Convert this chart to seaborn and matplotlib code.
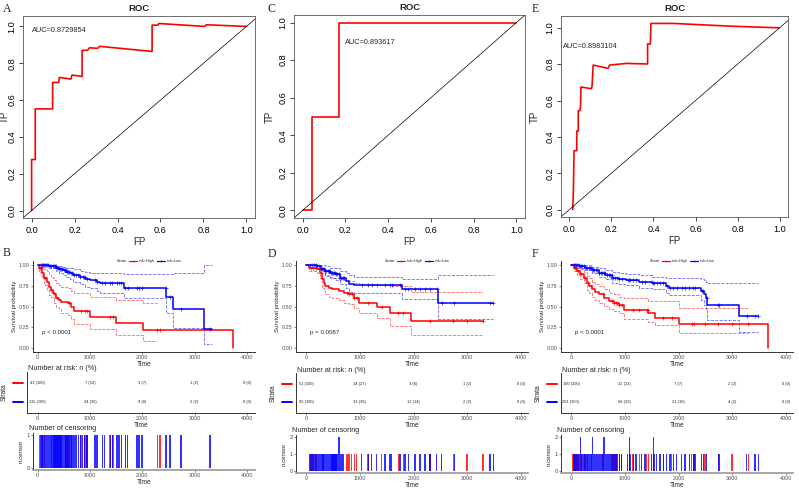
import matplotlib
matplotlib.use("Agg")
import matplotlib.pyplot as plt
from matplotlib.lines import Line2D
import numpy as np
import pandas as pd
import seaborn as sns

W, H = 799, 488
RED, BLUE = "#FF0000", "#0000FF"
GREY = "#4D4D4D"

# ---------------- ROC curves ----------------
roc_a_fp = [0, 0, 0.017, 0.017, 0.098, 0.098, 0.126, 0.129, 0.183, 0.188, 0.235, 0.235,
            0.261, 0.269, 0.308, 0.316, 0.561, 0.561, 0.588, 0.592, 0.806, 0.813, 1.0]
roc_a_tp = [0, 0.277, 0.277, 0.552, 0.552, 0.696, 0.696, 0.723, 0.714, 0.736, 0.728, 0.870,
            0.870, 0.884, 0.881, 0.892, 0.864, 1.007, 1.007, 1.016, 1.0, 1.009, 1.0]
roc_c_fp = [0.0, 0.044, 0.044, 0.169, 0.169, 1.0]
roc_c_tp = [0.0, 0.0, 0.497, 0.497, 1.0, 1.0]
roc_e_fp = [0.016, 0.019, 0.022, 0.035, 0.035, 0.042, 0.042, 0.050, 0.053, 0.055, 0.105, 0.108,
            0.113, 0.184, 0.192, 0.271, 0.372, 0.372, 0.385, 0.388, 0.498, 0.765, 0.997]
roc_e_tp = [0.0, 0.106, 0.324, 0.324, 0.432, 0.432, 0.544, 0.544, 0.566, 0.674, 0.665, 0.683,
            0.795, 0.777, 0.795, 0.804, 0.801, 0.911, 0.911, 1.024, 1.024, 1.009, 1.0]
auc_a, auc_c, auc_e = "AUC=0.8729854", "AUC=0.893617", "AUC=0.8983104"

# ---------------- KM curves (time, survival, conf. band) ----------------
# B
b_hi_t = [0, 32, 84, 129, 174, 226, 258, 290, 323, 355, 406, 452, 581, 645, 690, 1000, 1503, 2019, 3742]
b_hi_s = [1.0, 0.96, 0.90, 0.84, 0.80, 0.74, 0.70, 0.67, 0.65, 0.60, 0.58, 0.56, 0.54, 0.50, 0.45, 0.38, 0.30, 0.225, 0.0]
b_hi_ci_t = [0, 32, 84, 129, 174, 226, 258, 290, 323, 355, 406, 452, 581, 645, 690, 1000, 1503, 2019, 2290]
b_hi_up = [1.0, 1.0, 0.98, 0.95, 0.93, 0.89, 0.86, 0.84, 0.82, 0.78, 0.76, 0.74, 0.72, 0.69, 0.66, 0.62, 0.58, 0.54, 0.54]
b_hi_lo = [1.0, 0.92, 0.84, 0.76, 0.70, 0.64, 0.62, 0.60, 0.55, 0.50, 0.47, 0.43, 0.40, 0.35, 0.29, 0.23, 0.16, 0.09, 0.09]
b_hi_cens = [40, 75, 135, 265, 310, 380, 600, 830, 910, 950, 1380, 1440, 2290, 2340]

b_lo_t = [0, 226, 355, 419, 484, 548, 613, 677, 806, 903, 1000, 1129, 1194, 1645, 2452, 2581, 3181, 3323]
b_lo_s = [1.0, 0.99, 0.97, 0.95, 0.94, 0.92, 0.90, 0.88, 0.86, 0.83, 0.82, 0.80, 0.78, 0.73, 0.62, 0.47, 0.23, 0.23]
b_lo_up = [1.0, 1.0, 0.99, 0.99, 0.98, 0.97, 0.96, 0.95, 0.93, 0.92, 0.91, 0.90, 0.90, 0.89, 0.89, 0.91, 1.0, 1.0]
b_lo_lo = [1.0, 0.97, 0.93, 0.90, 0.88, 0.86, 0.83, 0.80, 0.77, 0.74, 0.72, 0.69, 0.66, 0.61, 0.43, 0.24, 0.05, 0.05]
b_lo_cens = [60, 85, 110, 130, 150, 170, 190, 210, 230, 260, 290, 310, 330, 350, 370, 390, 410, 430,
             450, 470, 500, 520, 540, 560, 580, 610, 640, 660, 700, 740, 780, 820, 860, 900, 940,
             1100, 1140, 1240, 1280, 1390, 1430, 1520, 1560, 1600, 1680, 1720, 1900, 1940, 2000,
             2450, 2530, 2740, 3290]
b_lo_double = []

# D
d_hi_t = [0, 50, 205, 255, 299, 330, 361, 423, 485, 610, 703, 797, 890, 983, 1325, 1560, 1948, 3290]
d_hi_s = [1.0, 0.97, 0.95, 0.91, 0.83, 0.79, 0.75, 0.73, 0.71, 0.69, 0.67, 0.65, 0.61, 0.55, 0.50, 0.43, 0.33, 0.33]
d_hi_up = [1.0, 1.0, 1.0, 0.99, 0.94, 0.91, 0.88, 0.86, 0.85, 0.83, 0.82, 0.81, 0.79, 0.77, 0.76, 0.75, 0.68, 0.68]
d_hi_lo = [1.0, 0.93, 0.90, 0.85, 0.73, 0.69, 0.65, 0.62, 0.60, 0.58, 0.55, 0.53, 0.48, 0.42, 0.37, 0.27, 0.16, 0.16]
d_hi_cens = [90, 130, 190, 760, 800, 850, 900, 940, 1150, 1408, 1718, 1811, 2310, 2741, 3000, 3290]

d_lo_t = [0, 200, 270, 360, 455, 550, 640, 735, 800, 900, 1780, 2460, 3480]
d_lo_s = [1.0, 0.99, 0.95, 0.93, 0.91, 0.89, 0.85, 0.81, 0.77, 0.76, 0.71, 0.55, 0.55]
d_lo_up = [1.0, 1.0, 1.0, 0.99, 0.97, 0.96, 0.93, 0.90, 0.88, 0.86, 0.83, 0.88, 0.88]
d_lo_lo = [1.0, 0.96, 0.90, 0.87, 0.85, 0.82, 0.77, 0.73, 0.68, 0.66, 0.59, 0.35, 0.35]
d_lo_cens = [80, 110, 150, 180, 210, 240, 270, 300, 320, 340, 360, 380, 400, 420, 440, 460, 480, 500,
             520, 540, 560, 580, 614, 640, 660, 680, 700, 1036, 1160, 1222, 1315, 1470, 1563, 1594,
             1749, 1842, 1904, 2028, 2121, 2214, 2307, 2431, 2524, 2760, 3423, 3485]
d_lo_double = [614]

# F
f_hi_t = [0, 50, 110, 170, 235, 300, 330, 390, 455, 515, 610, 700, 800, 890, 980, 1440, 1560, 2000, 3670]
f_hi_s = [1.0, 0.97, 0.93, 0.89, 0.85, 0.79, 0.75, 0.71, 0.68, 0.65, 0.61, 0.57, 0.55, 0.52, 0.46, 0.42, 0.37, 0.29, 0.0]
f_hi_ci_t = [0, 50, 110, 170, 235, 300, 330, 390, 455, 515, 610, 700, 800, 890, 980, 1440, 1560, 2000, 3300]
f_hi_up = [1.0, 1.0, 0.98, 0.95, 0.92, 0.87, 0.84, 0.80, 0.77, 0.75, 0.71, 0.67, 0.65, 0.62, 0.60, 0.57, 0.57, 0.48, 0.48]
f_hi_lo = [1.0, 0.93, 0.88, 0.83, 0.78, 0.70, 0.66, 0.62, 0.58, 0.55, 0.51, 0.47, 0.45, 0.42, 0.35, 0.32, 0.28, 0.18, 0.18]
f_hi_cens = [40, 75, 90, 130, 190, 265, 310, 380, 600, 760, 800, 830, 850, 900, 940, 1150, 1271,
             1408, 1439, 1718, 1873, 2245, 2290, 2493, 2741, 3000, 3299]

f_lo_t = [0, 143, 268, 392, 516, 641, 765, 890, 1014, 1263, 1512, 1761, 1823, 2414, 2477, 2508, 2539, 3130, 3480]
f_lo_s = [1.0, 0.99, 0.97, 0.94, 0.91, 0.88, 0.85, 0.83, 0.82, 0.80, 0.78, 0.75, 0.73, 0.69, 0.65, 0.61, 0.52, 0.39, 0.39]
f_lo_up = [1.0, 1.0, 1.0, 0.98, 0.96, 0.94, 0.92, 0.90, 0.89, 0.88, 0.86, 0.84, 0.84, 0.83, 0.82, 0.80, 0.79, 0.79, 0.79]
f_lo_lo = [1.0, 0.97, 0.94, 0.90, 0.86, 0.83, 0.79, 0.77, 0.76, 0.73, 0.71, 0.67, 0.64, 0.58, 0.52, 0.47, 0.34, 0.19, 0.19]
f_lo_cens = [60, 80, 100, 120, 140, 160, 180, 210, 240, 270, 300, 330, 360, 380, 403, 430, 460, 490,
             520, 550, 580, 614, 640, 670, 700, 730, 760, 790, 820, 860, 900, 940, 1054, 1085, 1098,
             1160, 1209, 1315, 1377, 1501, 1532, 1544, 1594, 1656, 1718, 1780, 1842, 1904, 1966,
             2059, 2121, 2202, 2276, 2307, 2431, 2462, 2524, 2741, 2760, 3268, 3423, 3485]
f_lo_double = [180, 403, 614, 1085, 1532]

risk_times = [0, 1000, 2000, 3000, 4000]
risk_b_high = ["43 (100)", "7 (16)", "3 (7)", "1 (2)", "0 (0)"]
risk_b_low = ["115 (100)", "34 (30)", "9 (8)", "2 (2)", "0 (0)"]
risk_d_high = ["51 (100)", "14 (27)", "3 (6)", "1 (2)", "0 (0)"]
risk_d_low = ["92 (100)", "33 (36)", "13 (14)", "2 (2)", "0 (0)"]
risk_f_high = ["100 (100)", "22 (22)", "7 (7)", "2 (2)", "0 (0)"]
risk_f_low = ["201 (100)", "66 (33)", "21 (10)", "4 (2)", "0 (0)"]

pval_b, pval_d, pval_f = "p < 0.0001", "p = 0.0087", "p < 0.0001"

sns.set_theme(style="ticks")
plt.rcParams["font.family"] = ["Liberation Sans", "DejaVu Sans"]

fig = plt.figure(figsize=(W / 100, H / 100), dpi=100)


def px_axes(left, top, right, bottom):
    return fig.add_axes([left / W, 1 - bottom / H, (right - left) / W, (bottom - top) / H])


def letter(x, y, s):
    fig.text(x / W, 1 - y / H, s, family=["Liberation Serif", "DejaVu Serif"],
             fontsize=8.5, ha="left", va="center")


def roc_panel(box, fp, tp, auc_txt, auc_xy, tp_off):
    ax = px_axes(*box)
    df = pd.DataFrame({"FP": fp, "TP": tp})
    sns.lineplot(data=df, x="FP", y="TP", sort=False, estimator=None,
                 color=RED, lw=1.2, ax=ax)
    ax.axline((0, 0), slope=1, color="black", lw=0.5)
    pad = 0.04 * (max(tp) - min(tp))
    ax.set_xlim(-0.04, 1.04)
    ax.set_ylim(min(tp) - pad, max(tp) + pad)
    ticks = np.round(np.arange(0, 1.01, 0.2), 1)
    ax.set_xticks(ticks, [f"{v:.1f}" for v in ticks])
    ax.set_yticks(ticks, [f"{v:.1f}" for v in ticks], rotation=90, va="center")
    ax.tick_params(length=3, width=0.5, labelsize=6.6, colors="black")
    ax.tick_params(axis="x", pad=3)
    ax.tick_params(axis="y", pad=1.5)
    for sp in ax.spines.values():
        sp.set_visible(True)
        sp.set_linewidth(0.6)
        sp.set_color("#555555")
    ax.set_xlabel("FP", fontsize=7, labelpad=1)
    ax.set_ylabel("TP", fontsize=7)
    ax.yaxis.set_label_coords(tp_off / (box[2] - box[0]), 0.5)
    ax.set_title("ROC", fontsize=6.8, fontweight="bold", pad=3.5)
    ax.text(auc_xy[0], auc_xy[1], auc_txt, fontsize=5.3, ha="left", va="center")


def step_at(t, s, x):
    i = np.searchsorted(t, x, side="right") - 1
    return np.asarray(s)[np.clip(i, 0, len(s) - 1)]


def gg_axis(ax, box, x0, x4k):
    k = 4000 / (x4k - x0)
    ax.set_xlim((box[0] - x0) * k, (box[2] - x0) * k)
    ax.set_xticks(risk_times)
    for sp in ("top", "right"):
        ax.spines[sp].set_visible(False)
    for sp in ("left", "bottom"):
        ax.spines[sp].set_linewidth(0.7)
        ax.spines[sp].set_color("#333333")
    ax.tick_params(length=1.5, width=0.5, pad=0.8, labelsize=3.9, colors=GREY)


def km_panel(box, x0, x4k, groups, pval):
    ax = px_axes(*box)
    for g in groups:
        for band in ("up", "lo"):
            sns.lineplot(x=g["ci_t"], y=g[band], drawstyle="steps-post", estimator=None,
                         sort=False, color=g["color"], lw=0.6, ls="--", alpha=0.6, ax=ax)
    for g in groups:
        sns.lineplot(x=g["t"], y=g["s"], drawstyle="steps-post", estimator=None,
                     sort=False, color=g["color"], lw=1.1, ax=ax)
        cy = step_at(g["t"], g["s"], g["cens"])
        ax.plot(g["cens"], cy, "+", color=g["color"], ms=2.2, mew=0.45)
    gg_axis(ax, box, x0, x4k)
    ax.set_ylim(-0.045, 1.05)
    yt = [0, 0.25, 0.5, 0.75, 1.0]
    ax.set_yticks(yt, [f"{v:.2f}" for v in yt])
    ax.set_xlabel("Time", fontsize=4.8, labelpad=0.5)
    ax.set_ylabel("Survival probability", fontsize=4.4, labelpad=1.5)
    ax.text(80, 0.19, pval, fontsize=4.4, ha="left", va="center")
    handles = [Line2D([], [], color="none"),
               Line2D([], [], color=RED, lw=0.9, marker="+", ms=1.8, mew=0.4),
               Line2D([], [], color=BLUE, lw=0.9, marker="+", ms=1.8, mew=0.4)]
    ax.legend(handles, ["Strata", "risk=High", "risk=Low"], ncol=3, frameon=False,
              fontsize=2.7, loc="lower center", bbox_to_anchor=(0.5, 0.955),
              handlelength=2.2, handletextpad=0.4, columnspacing=0.6, borderpad=0.1)
    return ax


def risk_panel(box, x0, x4k, high, low):
    ax = px_axes(*box)
    for x, hs, ls in zip(risk_times, high, low):
        ax.text(x, 1, hs, fontsize=2.9, ha="center", va="center", color="#222222")
        ax.text(x, 0, ls, fontsize=2.9, ha="center", va="center", color="#222222")
    gg_axis(ax, box, x0, x4k)
    ax.set_ylim(-0.6, 1.6)
    ax.set_yticks([])
    tr = ax.get_yaxis_transform()
    w = box[2] - box[0]
    ax.plot([-14 / w, -4 / w], [1, 1], color=RED, lw=1.4, transform=tr, clip_on=False)
    ax.plot([-14 / w, -4 / w], [0, 0], color=BLUE, lw=1.4, transform=tr, clip_on=False)
    ax.set_ylabel("Strata", fontsize=4.8)
    ax.yaxis.set_label_coords(-19 / w, 0.5)
    ax.set_xlabel("Time", fontsize=4.8, labelpad=0.3)
    fig.text((box[0] + 1) / W, 1 - (box[1] - 3) / H, "Number at risk: n (%)",
             fontsize=5.2, ha="left", va="center")


def cens_panel(box, x0, x4k, groups, ymax):
    ax = px_axes(*box)
    for g in groups:
        counts = [2 if c in g["double"] else 1 for c in g["cens"]]
        ax.bar(g["cens"], counts, width=30, color=g["color"], alpha=0.8, lw=0)
    gg_axis(ax, box, x0, x4k)
    ax.set_ylim(-0.05 * ymax, 1.05 * ymax)
    ax.set_yticks(range(ymax + 1))
    ax.tick_params(axis="y", labelsize=4.4)
    ax.spines["bottom"].set_linewidth(1.2)
    ax.spines["bottom"].set_color("#9a9a9a")
    ax.set_ylabel("n.censor", fontsize=4.4, labelpad=2)
    ax.set_xlabel("Time", fontsize=4.8, labelpad=0.3)
    fig.text((box[0] - 4) / W, 1 - (box[1] - 5) / H, "Number of censoring",
             fontsize=5.2, ha="left", va="center")


def grp(color, t, s, up, lo, cens, ci_t=None, double=()):
    return {"color": color, "t": t, "s": s, "ci_t": ci_t if ci_t else t,
            "up": up, "lo": lo, "cens": cens, "double": list(double)}


b_groups = [grp(RED, b_hi_t, b_hi_s, b_hi_up, b_hi_lo, b_hi_cens, b_hi_ci_t),
            grp(BLUE, b_lo_t, b_lo_s, b_lo_up, b_lo_lo, b_lo_cens, double=b_lo_double)]
d_groups = [grp(RED, d_hi_t, d_hi_s, d_hi_up, d_hi_lo, d_hi_cens),
            grp(BLUE, d_lo_t, d_lo_s, d_lo_up, d_lo_lo, d_lo_cens, double=d_lo_double)]
f_groups = [grp(RED, f_hi_t, f_hi_s, f_hi_up, f_hi_lo, f_hi_cens, f_hi_ci_t),
            grp(BLUE, f_lo_t, f_lo_s, f_lo_up, f_lo_lo, f_lo_cens, double=f_lo_double)]

# top row: ROC
roc_panel((23, 16, 255, 218), roc_a_fp, roc_a_tp, auc_a, (0.0, 0.98), -13)
roc_panel((294, 15, 525, 218), roc_c_fp, roc_c_tp, auc_c, (0.2, 0.893), -19.5)
roc_panel((561, 16, 788, 217), roc_e_fp, roc_e_tp, auc_e, (-0.03, 0.898), -21.5)

# bottom row: survival
km_panel((33, 261, 255, 352), 37.5, 247, b_groups, pval_b)
risk_panel((27, 372, 255, 413), 37.5, 247, risk_b_high, risk_b_low)
cens_panel((33, 433, 255, 470), 37.5, 247, b_groups, 1)

km_panel((296, 261, 528, 352), 306, 521, d_groups, pval_d)
risk_panel((296, 373, 528, 413), 306, 521, risk_d_high, risk_d_low)
cens_panel((296, 435, 528, 473), 306, 521, d_groups, 2)

km_panel((561, 261, 793, 352), 571, 786, f_groups, pval_f)
risk_panel((561, 373, 793, 413), 571, 786, risk_f_high, risk_f_low)
cens_panel((561, 435, 793, 473), 571, 786, f_groups, 2)

for x, y, s in [(3, 9, "A"), (268, 9, "C"), (532, 9, "E"),
                (3, 253, "B"), (268, 254, "D"), (532, 254, "F")]:
    letter(x, y, s)

fig.savefig("out.png", dpi=100, facecolor="white")
